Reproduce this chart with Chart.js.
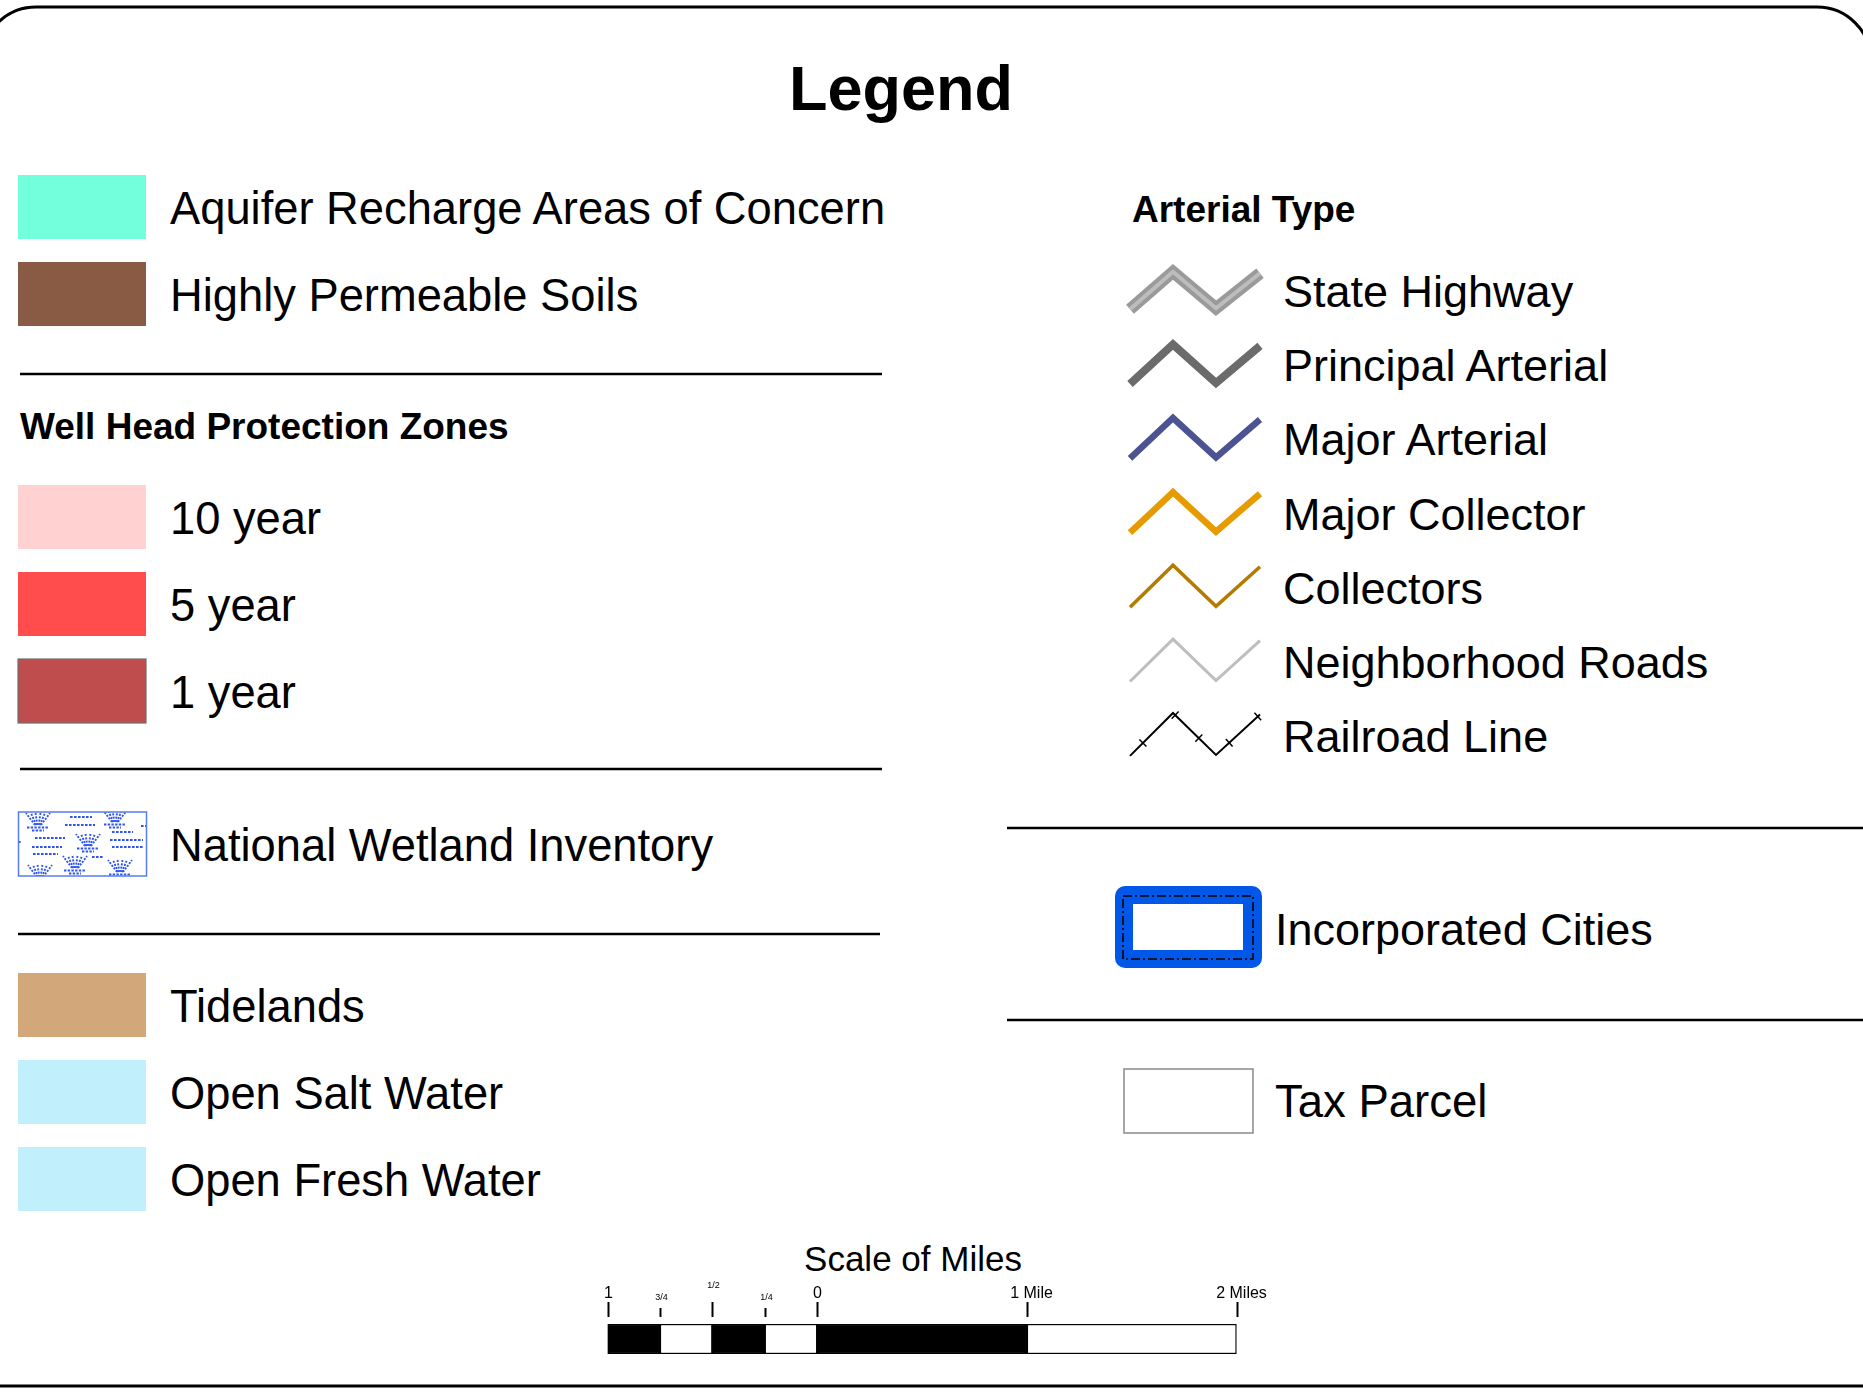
<!DOCTYPE html>
<html>
<head>
<meta charset="utf-8">
<title>Legend</title>
<script src="https://cdn.jsdelivr.net/npm/chart.js@4.4.1/dist/chart.umd.min.js"></script>
<style>
  html, body { margin: 0; padding: 0; background: #fff; }
  #page { position: relative; width: 1863px; height: 1397px; overflow: hidden; }
  #art { position: absolute; left: 0; top: 0; font-family: "Liberation Sans", Arial, sans-serif; }
  #scale { position: absolute; left: 560px; top: 1230px; }
</style>
</head>
<body>
<div id="page">
  <svg id="art" width="1863" height="1397" xmlns="http://www.w3.org/2000/svg"></svg>
  <canvas id="scale" width="760" height="140"></canvas>
</div>
<script>
// legend entries
const surfaceLabels = ['Aquifer Recharge Areas of Concern', 'Highly Permeable Soils'];
const wellHeadLabels = ['10 year', '5 year', '1 year'];
const wetlandLabel = 'National Wetland Inventory';
const waterLabels = ['Tidelands', 'Open Salt Water', 'Open Fresh Water'];
const arterialLabels = ['State Highway', 'Principal Arterial', 'Major Arterial', 'Major Collector',
  'Collectors', 'Neighborhood Roads', 'Railroad Line'];
const boundaryLabels = ['Incorporated Cities', 'Tax Parcel'];

// scale bar (miles, left of 0 is the subdivided mile)
const scaleSegStart = [-1, -0.75, -0.5, -0.25, 0, 1];
const scaleSegEnd = [-0.75, -0.5, -0.25, 0, 1, 2];
const scaleTickValues = [-1, -0.75, -0.5, -0.25, 0, 1, 2];
const scaleTickLabels = ['1', '3/4', '1/2', '1/4', '0', '1 Mile', '2 Miles'];

// styling
const surfaceColors = ['#74ffdc', '#895a44'];
const wellHeadColors = ['#ffd1d1', '#ff4d4d', '#c04d4d'];
const waterColors = ['#d2a87a', '#c2effc', '#c2effc'];
const roadStyles = [
  { color: '#9a9a9a', width: 12, inner: '#bdbdbd', innerWidth: 4 },
  { color: '#6b6b6b', width: 8 },
  { color: '#4b5393', width: 6.5 },
  { color: '#e69c00', width: 6.5 },
  { color: '#b57a00', width: 3.5 },
  { color: '#bebebe', width: 3 },
  { color: '#000000', width: 2, rail: true }
];
const tickStyle = ['major', 'minor', 'half', 'minor', 'major', 'major', 'major'];

const NS = 'http://www.w3.org/2000/svg';
const art = document.getElementById('art');

function el(tag, attrs, parent) {
  const e = document.createElementNS(NS, tag);
  for (const k in attrs) e.setAttribute(k, attrs[k]);
  (parent || art).appendChild(e);
  return e;
}

function label(str, x, y, size, bold, anchor) {
  const t = el('text', {
    x: x, y: y, 'font-size': size, fill: '#000',
    'font-weight': bold ? 'bold' : 'normal',
    'text-anchor': anchor || 'start'
  });
  t.textContent = str;
  return t;
}

function hline(x1, x2, y) {
  el('line', { x1: x1, y1: y, x2: x2, y2: y, stroke: '#000', 'stroke-width': 2.6 });
}

// frame
el('path', {
  d: 'M -18 1500 L -18 61 A 54 54 0 0 1 36 7 L 1817 7 A 54 54 0 0 1 1871 61 L 1871 1500',
  fill: 'none', stroke: '#000', 'stroke-width': 3
});
el('line', { x1: 0, y1: 1386, x2: 1863, y2: 1386, stroke: '#000', 'stroke-width': 3 });

label('Legend', 901, 110, 63, true, 'middle');

// left column
function swatchRows(labels, colors, top, border) {
  labels.forEach((name, i) => {
    const y = top + i * 87;
    el('rect', {
      x: 18, y: y, width: 128, height: 64, fill: colors[i],
      stroke: border && border[i] ? border[i] : 'none', 'stroke-width': 1.2
    });
    label(name, 170, y + 49, 45.3);
  });
}

swatchRows(surfaceLabels, surfaceColors, 175);
hline(20, 882, 374);
label('Well Head Protection Zones', 20, 439, 37, true);
swatchRows(wellHeadLabels, wellHeadColors, 485, [null, null, '#6f6f6f']);
hline(20, 882, 769);

// wetland swatch with marsh pattern
const defs = el('defs', {});
const clip = el('clipPath', { id: 'wetClip' }, defs);
el('rect', { x: 18.5, y: 812, width: 128, height: 64 }, clip);
const wet = el('g', { 'clip-path': 'url(#wetClip)', stroke: '#2f55ee', 'stroke-width': 1.9, fill: 'none' });
const tufts = [[38, 825], [115, 822], [88, 846], [75, 868], [40, 877], [120, 872]];
tufts.forEach(([cx, cy]) => {
  [-12, -7, -2.5, 2.5, 7, 12].forEach(dx => {
    el('line', { x1: cx + dx * 0.25, y1: cy, x2: cx + dx, y2: cy - 12, 'stroke-dasharray': '2 1.4' }, wet);
  });
  el('line', { x1: cx - 11, y1: cy + 2.5, x2: cx + 11, y2: cy + 2.5, 'stroke-dasharray': '2.4 1.3' }, wet);
  el('line', { x1: cx - 6, y1: cy + 5.5, x2: cx + 6, y2: cy + 5.5, 'stroke-dasharray': '2.4 1.3' }, wet);
});
const wetDashes = [[70, 92, 817], [65, 95, 825], [112, 133, 832], [35, 65, 838], [110, 143, 840],
  [32, 62, 847], [112, 143, 847], [33, 58, 854], [92, 103, 857], [141, 147, 826], [18, 22, 842]];
wetDashes.forEach(([a, b, y]) => {
  el('line', { x1: a, y1: y, x2: b, y2: y, 'stroke-dasharray': '2.6 1.4' }, wet);
});
el('rect', { x: 18.5, y: 812, width: 128, height: 64, fill: 'none', stroke: '#5a7cf0', 'stroke-width': 1.5 });
label(wetlandLabel, 170, 861, 45.3);
hline(18, 880, 934);

swatchRows(waterLabels, waterColors, 973);

// right column: arterial types
label('Arterial Type', 1132, 222, 37, true);
arterialLabels.forEach((name, i) => {
  const b = 307 + i * 74.2;
  const st = roadStyles[i];
  const w = st.width;
  // centre line of the stroke; thicker strokes sit a little inside the band
  const peak = b - 40 + 0.4 * w;
  const valley = b + 3 - 0.15 * w;
  const pts = [[1130, valley + 1], [1173, peak], [1216, valley], [1260, peak + 1.5]];
  const d = pts.map(p => p.join(',')).join(' ');
  el('polyline', {
    points: d, fill: 'none', stroke: st.color, 'stroke-width': w,
    'stroke-linejoin': 'miter', 'stroke-linecap': 'butt'
  });
  if (st.inner) {
    el('polyline', {
      points: d, fill: 'none', stroke: st.inner, 'stroke-width': st.innerWidth,
      'stroke-linejoin': 'miter', 'stroke-linecap': 'butt'
    });
  }
  if (st.rail) {
    // cross ties along the track
    const ties = [[0, 0.3], [1, 0.05], [1, 0.6], [2, 0.3], [2, 0.95]];
    ties.forEach(([s, f]) => {
      const [x1, y1] = pts[s], [x2, y2] = pts[s + 1];
      const len = Math.hypot(x2 - x1, y2 - y1);
      const ux = (x2 - x1) / len, uy = (y2 - y1) / len;
      const cx = x1 + (x2 - x1) * f, cy = y1 + (y2 - y1) * f;
      el('line', {
        x1: cx - uy * 5, y1: cy + ux * 5, x2: cx + uy * 5, y2: cy - ux * 5,
        stroke: '#000', 'stroke-width': 1.5
      });
    });
  }
  label(name, 1283, b, 45);
});

hline(1007, 1863, 828);

// incorporated cities
el('rect', { x: 1115, y: 886, width: 147, height: 82, rx: 10, ry: 10, fill: '#0057e8' });
el('rect', { x: 1133, y: 904, width: 110, height: 46, fill: '#fff' });
el('rect', {
  x: 1123, y: 896, width: 130, height: 63, fill: 'none', stroke: '#000',
  'stroke-width': 1.6, 'stroke-dasharray': '9 3 2 3'
});
label(boundaryLabels[0], 1275, 945, 45);

hline(1007, 1863, 1020);

// tax parcel
el('rect', { x: 1124, y: 1069, width: 129, height: 64, fill: '#fff', stroke: '#8a8a8a', 'stroke-width': 1.5 });
label(boundaryLabels[1], 1275, 1117, 45.5);

// scale of miles
label('Scale of Miles', 913, 1271, 35, false, 'middle');

const scaleTicks = {
  id: 'scaleTicks',
  afterDraw(chart) {
    const ctx = chart.ctx;
    const x = chart.scales.x;
    ctx.save();
    ctx.strokeStyle = '#000';
    ctx.fillStyle = '#000';
    ctx.lineWidth = 2;
    ctx.textAlign = 'center';
    ctx.textBaseline = 'alphabetic';
    scaleTickValues.forEach((v, i) => {
      const px = Math.round(x.getPixelForValue(v)) + 0.5;
      const kind = tickStyle[i];
      const top = kind === 'minor' ? 78 : 72;
      ctx.beginPath();
      ctx.moveTo(px, top);
      ctx.lineTo(px, 87);
      ctx.stroke();
      if (kind === 'major') {
        ctx.font = '16px "Liberation Sans", Arial, sans-serif';
        ctx.fillText(scaleTickLabels[i], px + (i > 4 ? 4 : 0), 68);
      } else {
        ctx.font = '9px "Liberation Sans", Arial, sans-serif';
        ctx.fillText(scaleTickLabels[i], px + 1, kind === 'half' ? 58 : 70);
      }
    });
    ctx.restore();
  }
};

new Chart(document.getElementById('scale'), {
  type: 'bar',
  data: {
    labels: ['miles'],
    datasets: scaleSegStart.map((s, i) => ({
      label: scaleTickLabels[i],
      data: [[s, scaleSegEnd[i]]],
      backgroundColor: i % 2 === 0 ? '#000' : '#fff',
      borderColor: '#000',
      borderWidth: 1.5,
      borderSkipped: false,
      barPercentage: 1,
      categoryPercentage: 1,
      grouped: false
    }))
  },
  options: {
    indexAxis: 'y',
    responsive: false,
    animation: false,
    events: [],
    layout: { padding: { left: 47.5, right: 83.4, top: 94, bottom: 16 } },
    scales: {
      x: { type: 'linear', min: -1, max: 2, display: false },
      y: { display: false }
    },
    plugins: { legend: { display: false }, tooltip: { enabled: false } }
  },
  plugins: [scaleTicks]
});
</script>
</body>
</html>
